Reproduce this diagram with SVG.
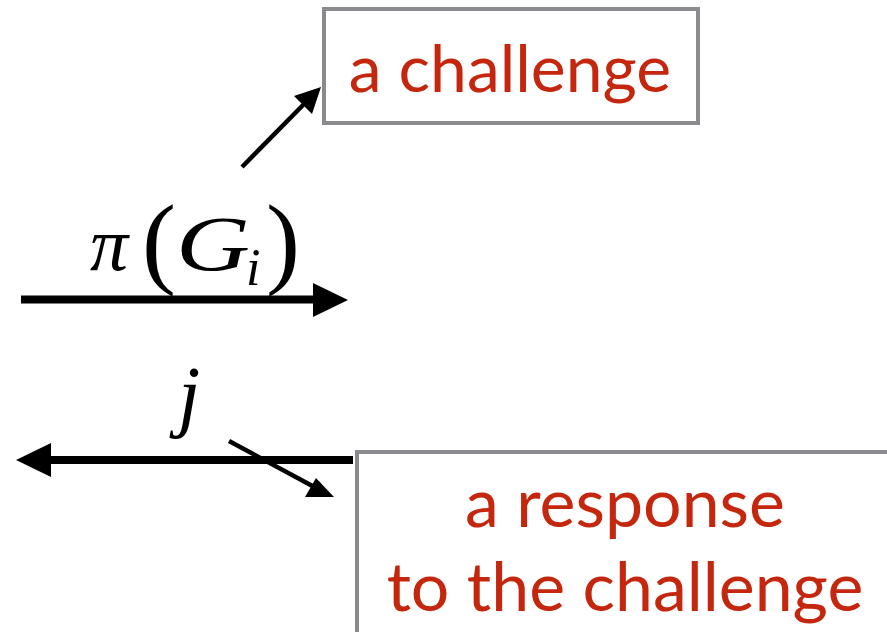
<svg xmlns="http://www.w3.org/2000/svg" width="887" height="632" viewBox="0 0 887 632">
<style>
.box{fill:#fff;stroke:#898b8f;stroke-width:4}
.lbl{font-family:Lato,"Open Sans",sans-serif;fill:#c5270e;font-size:66px;text-anchor:middle}
.big{font-size:68px}
.math{font-family:"Liberation Serif","DejaVu Serif",serif;font-style:italic;fill:#000}
.paren{font-family:"Liberation Serif","DejaVu Serif",serif;fill:#000;font-size:102px}
.thick{stroke:#000;stroke-width:8;fill:none}
.thin{stroke:#000;stroke-width:4.5;fill:none}
</style>
<g id="challenge">
<rect class="box" x="324" y="9" width="374" height="114"/>
<text class="lbl" x="510" y="92">a challenge</text>
</g>
<g id="response">
<rect class="box" x="357" y="452" width="540" height="200"/>
<text class="lbl big" x="625" y="527">a response</text>
<text class="lbl big" x="625" y="611">to the challenge</text>
</g>
<g id="connectors">
<line class="thick" x1="21" y1="299.5" x2="316" y2="299.5"/>
<polygon points="313,283 348,300 313,317" fill="#000"/>
<line class="thick" x1="50" y1="460" x2="353" y2="460"/>
<polygon points="16,460 51,443 51,477" fill="#000"/>
<line class="thin" x1="242" y1="167" x2="309" y2="99"/>
<polygon points="321,87 312,114 294,96" fill="#000"/>
<line class="thin" x1="229" y1="441" x2="318" y2="489"/>
<polygon points="334,497 305,497 316,478" fill="#000"/>
</g>
<g id="labels">
<text class="math" x="90" y="270" font-size="76">π</text>
<text class="paren" x="142" y="275">(</text>
<text class="math" x="176" y="270" font-size="78" textLength="74" lengthAdjust="spacingAndGlyphs">G</text>
<text class="math" x="246" y="285" font-size="52">i</text>
<text class="paren" x="266" y="275">)</text>
<text class="math" x="178" y="422" font-size="80">j</text>
</g>
</svg>
